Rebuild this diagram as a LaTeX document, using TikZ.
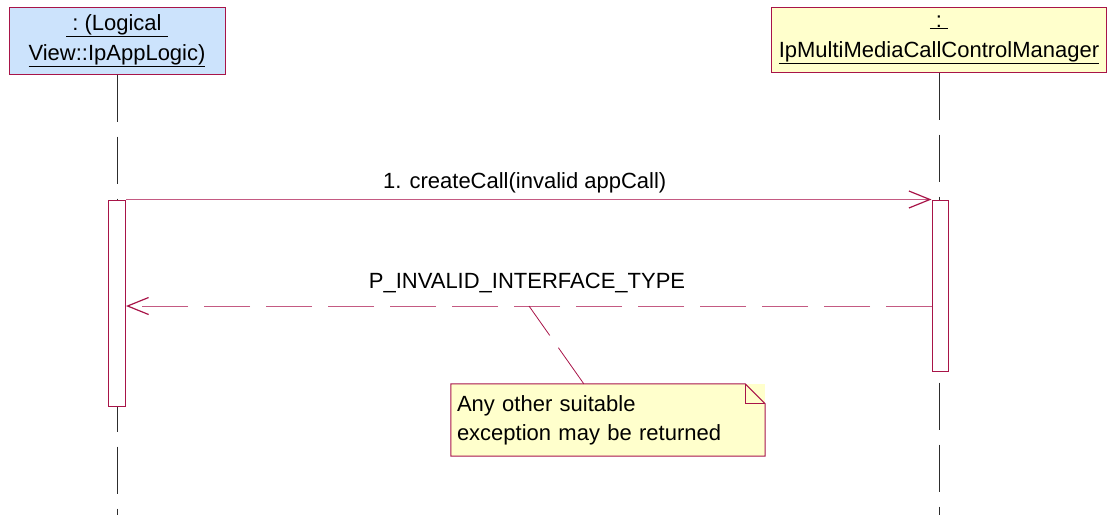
\documentclass[tikz,border=0pt]{standalone}
\usepackage{fontspec}
\setmainfont{Liberation Sans}
\usetikzlibrary{
  arrows.meta,
  positioning,
  calc
}
\definecolor{umlred}{RGB}{168,20,72}
\definecolor{msgred}{RGB}{196,90,130}
\definecolor{objblue}{RGB}{204,227,252}
\definecolor{noteyellow}{RGB}{255,255,204}
\definecolor{lifegray}{RGB}{45,45,45}

\begin{document}
\begin{tikzpicture}[x=1pt, y=-1pt, every node/.style={font=\fontsize{22}{30}\selectfont},
    objbox/.style={draw=umlred, line width=1pt, align=center, inner sep=0pt},
    actbar/.style={draw=umlred, line width=1pt, fill=white, inner sep=0pt, minimum width=17},
    lifeline/.style={draw=lifegray, line width=1pt, dash pattern=on 47pt off 15pt},
    msg/.style={draw=msgred, line width=1pt, -{Straight Barb[length=21pt, width=17pt, line width=1.2pt, color=umlred]}},
    retmsg/.style={msg, dash pattern=on 46pt off 16pt}]
            \useasboundingbox (0,0) rectangle (1109,515);

            % Objects
            \node[objbox, fill=objblue, minimum width=216, minimum height=67] (logic) at (117,40.5)
                {\underline{\ :\ (Logical\ }\\\underline{View::IpAppLogic)}};
            \node[objbox, fill=noteyellow, minimum width=335, minimum height=65] (mgr) at (939,39.5)
                {\underline{\ :\ }\\\underline{IpMultiMediaCallControlManager}};

            % Lifelines
            \coordinate (logicend) at (117,515);
            \coordinate (mgrend) at (939,515);
            \draw[lifeline] (logic.south) -- (logicend);
            \draw[lifeline] (mgr.south) -- (mgrend);

            % Activation bars
            \node[actbar, minimum height=206] (actL) at (117,303) {};
            \node[actbar, minimum height=171, minimum width=16] (actR) at (940,285.5) {};

            % Messages
            \draw[msg] (actL.north east) -- node[above=3pt, xshift=-4pt]{1. createCall(invalid appCall)} (actR.north west);
            \coordinate (retR) at (932,306);
            \coordinate (retL) at (126,306);
            \draw[retmsg] (retR) -- node[above=9pt, xshift=-2pt]{P\_INVALID\_INTERFACE\_TYPE} (retL);

            % Note
            \node[fill=noteyellow, minimum width=314, minimum height=72, text width=302, inner sep=6pt,
                  align=left, font=\fontsize{22}{29}\selectfont] (note) at (608,420)
                {Any other suitable\\exception may be returned};
            \draw[umlred, line width=1pt] (note.north west) -- ($(note.north east)+(-20,0)$)
                -- ($(note.north east)+(0,20)$) -- (note.south east) -- (note.south west) -- cycle;
            \draw[umlred, line width=0.8pt] ($(note.north east)+(-20,0)$) |- ($(note.north east)+(0,20)$);
            \coordinate (noteanchor) at (529,306);
            \draw[umlred, line width=0.8pt, dash pattern=on 36pt off 15pt on 60pt] (noteanchor) -- ($(note.north west)+(133,0)$);
        \end{tikzpicture}
\end{document}
